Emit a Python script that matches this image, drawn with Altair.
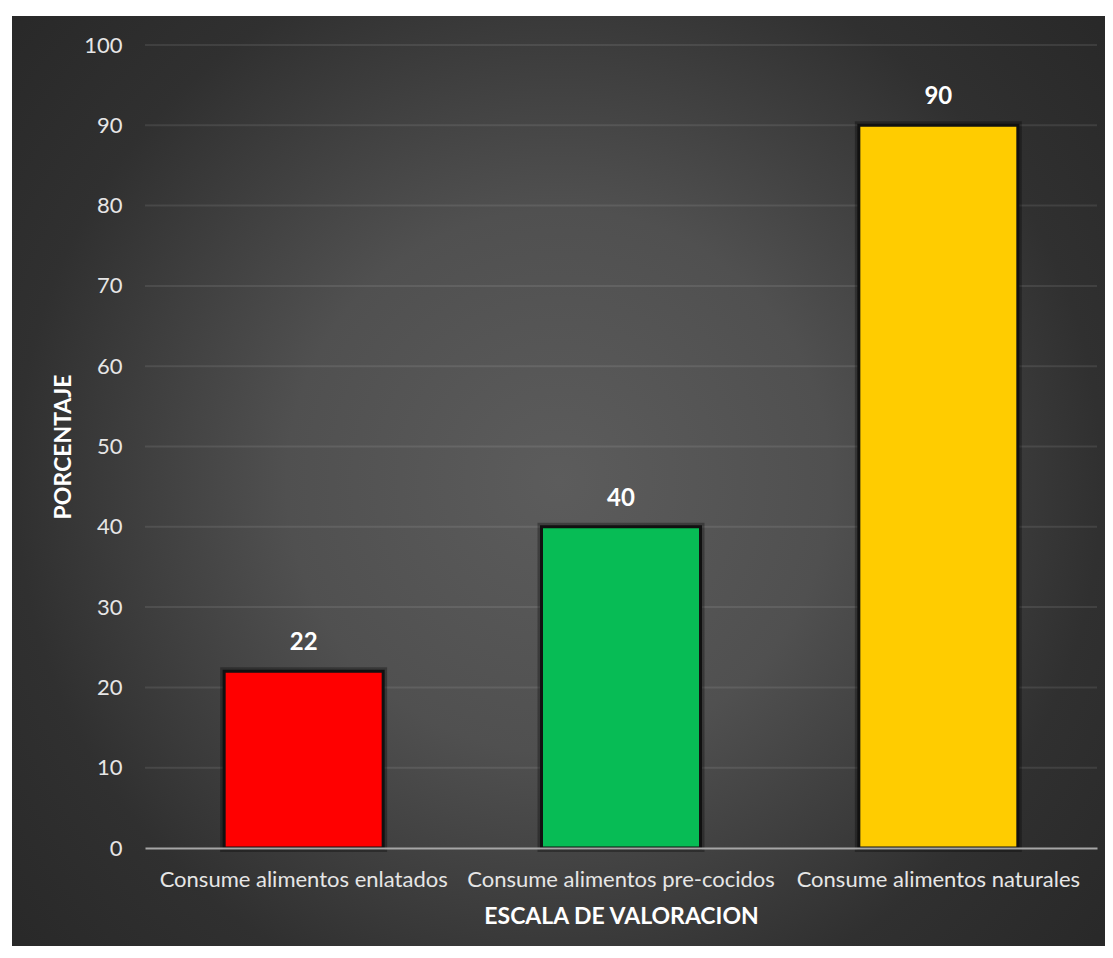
import altair as alt
import pandas as pd

categories = ["Consume alimentos enlatados", "Consume alimentos pre-cocidos", "Consume alimentos naturales"]
values = [22, 40, 90]
bar_colors = ["#FF0000", "#07BC55", "#FFCC00"]
y_ticks = [0, 10, 20, 30, 40, 50, 60, 70, 80, 90, 100]

df = pd.DataFrame({"cat": categories, "val": values})
bg_df = pd.DataFrame({"k": [0]})
grid_df = pd.DataFrame({"val": y_ticks[1:]})

W, H = 952, 803
PAD = {"left": 137, "top": 37, "right": 8, "bottom": 98}
FONT = "Lato"

gradient = {
    "gradient": "radial",
    "x1": 0.5, "y1": 0.5, "r1": 0,
    "x2": 0.5, "y2": 0.5, "r2": 0.71,
    "stops": [
        {"offset": 0.0, "color": "#5c5c5c"},
        {"offset": 0.35, "color": "#505050"},
        {"offset": 0.7, "color": "#303030"},
        {"offset": 1.0, "color": "#262626"},
    ],
}

y_scale = alt.Scale(domain=[0, 100], nice=False)
y_axis = alt.Axis(
    title="PORCENTAJE", values=y_ticks,
    domain=False, ticks=False, grid=False, zindex=2,
    labelFont=FONT, labelFontSize=22, labelColor="#e6e6e6", labelPadding=23,
    titleFont=FONT, titleFontSize=23, titleFontWeight="bold", titleColor="#ffffff",
    titlePadding=8,
)
x_scale = alt.Scale(paddingInner=0, paddingOuter=0)
x_axis = alt.Axis(
    title="ESCALA DE VALORACION", labelAngle=0, labelLimit=0,
    domain=True, domainColor="#a6a6a6", domainWidth=2,
    ticks=False, grid=False, zindex=2,
    labelFont=FONT, labelFontSize=22, labelColor="#e6e6e6", labelPadding=21,
    titleFont=FONT, titleFontSize=23, titleFontWeight="bold", titleColor="#ffffff",
    titlePadding=15,
)

background = alt.Chart(bg_df).mark_rect(fill=gradient, strokeWidth=0).encode(
    x=alt.value(-133), x2=alt.value(W + PAD["right"]),
    y=alt.value(-29), y2=alt.value(H + PAD["bottom"]),
)

gridlines = alt.Chart(grid_df).mark_rule(color="#ffffff", opacity=0.09, strokeWidth=2).encode(
    y=alt.Y("val:Q", scale=y_scale, axis=y_axis),
    x=alt.value(0), x2=alt.value(W),
)

shadow = alt.Chart(df).mark_bar(
    size=159, fill="#000000", fillOpacity=0.0, stroke="#000000", strokeWidth=8, strokeOpacity=0.3
).encode(
    x=alt.X("cat:N", sort=categories, scale=x_scale, axis=x_axis),
    y=alt.Y("val:Q", scale=y_scale, axis=y_axis),
)

bars = alt.Chart(df).mark_bar(size=159, stroke="#111111", strokeWidth=3).encode(
    x=alt.X("cat:N", sort=categories, scale=x_scale, axis=x_axis),
    y=alt.Y("val:Q", scale=y_scale, axis=y_axis),
    color=alt.Color("cat:N", sort=categories,
                    scale=alt.Scale(domain=categories, range=bar_colors), legend=None),
)

labels = alt.Chart(df).mark_text(
    dy=-28, font=FONT, fontSize=24, fontWeight="bold", color="#ffffff"
).encode(
    x=alt.X("cat:N", sort=categories),
    y="val:Q",
    text="val:Q",
)

chart = alt.layer(background, gridlines, shadow, bars, labels).properties(
    width=W, height=H,
    padding=PAD,
    autosize=alt.AutoSizeParams(type="none"),
    background="#ffffff",
).configure_view(stroke=None)

chart.save("out.html", embed_options={"renderer": "svg", "actions": False})
